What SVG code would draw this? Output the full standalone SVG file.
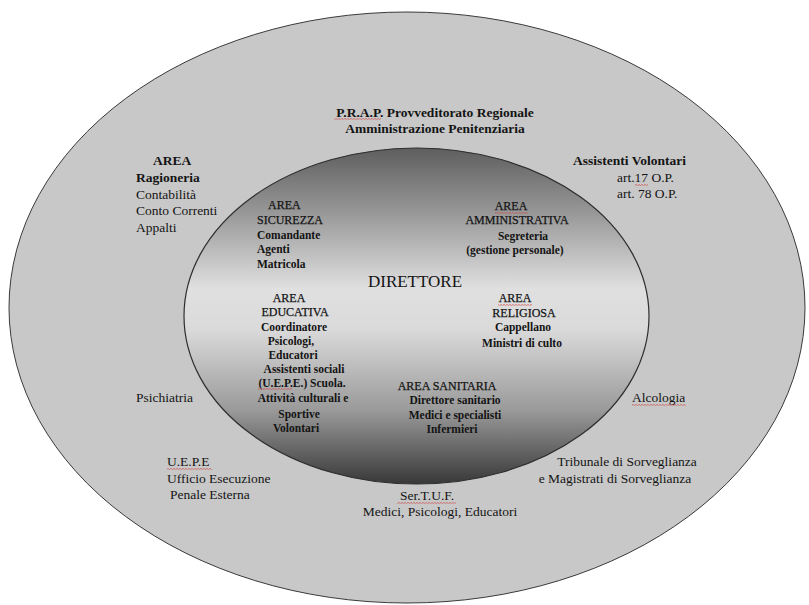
<svg xmlns="http://www.w3.org/2000/svg" width="809" height="605" viewBox="0 0 809 605">
<defs>
<linearGradient id="innerGrad" x1="0" y1="0" x2="0" y2="1">
<stop offset="0" stop-color="#5e5e5e"/>
<stop offset="0.2" stop-color="#9a9a9a"/>
<stop offset="0.42" stop-color="#e0e0e0"/>
<stop offset="0.54" stop-color="#dadada"/>
<stop offset="0.78" stop-color="#9a9a9a"/>
<stop offset="1" stop-color="#383838"/>
</linearGradient>
<pattern id="wavy" width="3" height="2" patternUnits="userSpaceOnUse">
<path d="M0 0.4 L1.5 1.6 L3 0.4" fill="none" stroke="#d04848" stroke-width="0.7"/>
</pattern>
</defs>
<style>
text{font-family:"Liberation Serif","Times New Roman",serif;fill:#141414}
.o{font-size:13.5px}
.ob{font-size:13.5px;font-weight:bold}
.i{font-size:12px;stroke:#141414;stroke-width:0.25px}
.ib{font-size:11.5px;font-weight:bold}
.m{text-anchor:middle}
.sp{fill:url(#wavy)}
</style>
<rect width="809" height="605" fill="#ffffff"/>
<g id="outer">
<ellipse cx="407" cy="307.5" rx="398" ry="295.5" fill="#c8c8c8" stroke="#3a3a3a" stroke-width="1"/>
</g>
<g id="inner">
<ellipse cx="416.5" cy="316" rx="232.5" ry="168" fill="url(#innerGrad)" stroke="#2e2e2e" stroke-width="1.2"/>
</g>
<g id="prap">
<text class="ob m" x="435" y="117">P.R.A.P. Provveditorato Regionale</text>
<text class="ob m" x="435" y="133">Amministrazione Penitenziaria</text>
</g>
<g id="ragioneria">
<text class="ob" x="153" y="165">AREA</text>
<text class="ob" x="136" y="182">Ragioneria</text>
<text class="o" x="136" y="199">Contabilità</text>
<text class="o" x="136" y="215">Conto Correnti</text>
<text class="o" x="136" y="232">Appalti</text>
</g>
<g id="volontari">
<text class="ob" x="573" y="165">Assistenti Volontari</text>
<text class="o" x="617" y="182">art.17 O.P.</text>
<text class="o" x="617" y="198">art. 78 O.P.</text>
</g>
<g id="psichiatria">
<text class="o" x="136" y="402">Psichiatria</text>
</g>
<g id="alcologia">
<text class="o" x="632" y="402">Alcologia</text>
</g>
<g id="uepe">
<text class="o" x="167" y="466">U.E.P.E</text>
<text class="o" x="167" y="483">Ufficio Esecuzione</text>
<text class="o" x="170" y="499">Penale Esterna</text>
</g>
<g id="sertuf">
<text class="o m" x="427" y="500">Ser.T.U.F.</text>
<text class="o m" x="440" y="516">Medici, Psicologi, Educatori</text>
</g>
<g id="tribunale">
<text class="o m" x="627" y="466">Tribunale di Sorveglianza</text>
<text class="o m" x="615" y="483">e Magistrati di Sorveglianza</text>
</g>
<g id="direttore">
<text class="m" x="415" y="287" font-size="17">DIRETTORE</text>
</g>
<g id="sicurezza">
<text class="i" x="268" y="209">AREA</text>
<text class="i" x="257" y="224">SICUREZZA</text>
<text class="ib" x="257" y="239">Comandante</text>
<text class="ib" x="257" y="253">Agenti</text>
<text class="ib" x="257" y="268">Matricola</text>
</g>
<g id="amministrativa">
<text class="i m" x="511" y="210">AREA</text>
<text class="i m" x="517" y="224">AMMINISTRATIVA</text>
<text class="ib m" x="523" y="240">Segreteria</text>
<text class="ib m" x="515" y="254">(gestione personale)</text>
</g>
<g id="educativa">
<text class="i m" x="289" y="302">AREA</text>
<text class="i m" x="295" y="316">EDUCATIVA</text>
<text class="ib m" x="294" y="331">Coordinatore</text>
<text class="ib m" x="291" y="345">Psicologi,</text>
<text class="ib m" x="293" y="359">Educatori</text>
<text class="ib m" x="304" y="373">Assistenti sociali</text>
<text class="ib m" x="302" y="387">(U.E.P.E.) Scuola.</text>
<text class="ib m" x="303" y="402">Attività culturali e</text>
<text class="ib m" x="299" y="418">Sportive</text>
<text class="ib m" x="296" y="432">Volontari</text>
</g>
<g id="religiosa">
<text class="i m" x="515" y="302">AREA</text>
<text class="i m" x="524" y="317">RELIGIOSA</text>
<text class="ib m" x="523" y="331">Cappellano</text>
<text class="ib m" x="522" y="347">Ministri di culto</text>
</g>
<g id="sanitaria">
<text class="i m" x="447" y="390">AREA SANITARIA</text>
<text class="ib m" x="455" y="404">Direttore sanitario</text>
<text class="ib m" x="455" y="419">Medici e specialisti</text>
<text class="ib m" x="452" y="433">Infermieri</text>
</g>
<g id="connectors"></g>
<g id="spellcheck">
<rect class="sp" x="334" y="118" width="47" height="2"/>
<rect class="sp" x="635" y="184" width="13" height="2"/>
<rect class="sp" x="495" y="212" width="33" height="2"/>
<rect class="sp" x="498" y="304" width="34" height="2"/>
<rect class="sp" x="258" y="388" width="34" height="2"/>
<rect class="sp" x="632" y="404" width="54" height="2"/>
<rect class="sp" x="167" y="468" width="45" height="2"/>
<rect class="sp" x="397" y="502" width="59" height="2"/>
</g>
</svg>
